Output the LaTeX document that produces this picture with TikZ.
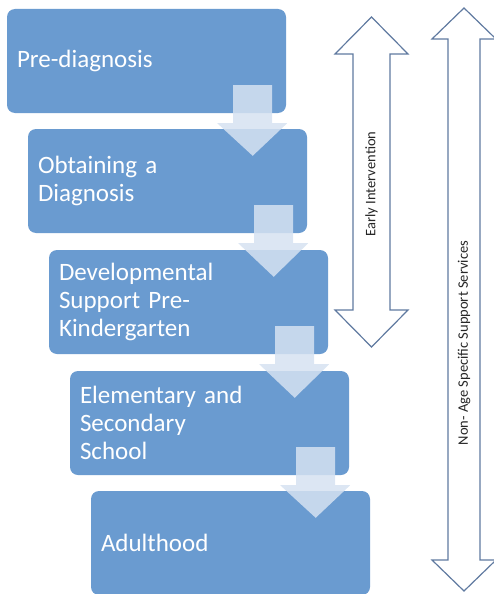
\documentclass[tikz,border=0pt]{standalone}
\usepackage{fontspec}
\setmainfont{Carlito}
\usetikzlibrary{calc}

\definecolor{boxblue}{RGB}{106,155,208}
\definecolor{stepfill}{RGB}{214,226,241}
\definecolor{spanline}{RGB}{96,122,160}

\begin{document}
\begin{tikzpicture}[x=1pt, y=-1pt,
  stage/.style={fill=boxblue, rounded corners=8pt, minimum width=279pt,
                minimum height=104pt, text width=259pt, inner xsep=10pt,
                align=left, text=white, font=\fontsize{25}{28}\selectfont},
  down/.style={fill=stepfill, fill opacity=0.85},
  span/.style={draw=spanline, line width=1.2pt, fill=white},
  lbl/.style={font=\fontsize{14.5}{16}\selectfont, rotate=90, text=black!85},
]
\useasboundingbox (0,0) rectangle (493,594);

% the two spans on the right
\draw[span] (371.5,17) -- (408,54) -- (390,54) -- (390,310) -- (408,310)
  -- (371.5,347) -- (335,310) -- (353,310) -- (353,54) -- (335,54) -- cycle;
\draw[span] (464,8) -- (496,39) -- (480,39) -- (480,560) -- (496,560)
  -- (464,591) -- (432,560) -- (448,560) -- (448,39) -- (432,39) -- cycle;
\node[lbl] (early)  at (371.5,184) {Early Intervention};
\node[lbl] (nonage) at (464,343)   {Non- Age Specific Support Services};

% stages
\node[stage] (b1) at (146.5,61)  {Pre-diagnosis};
\node[stage] (b2) at (167.5,181) {Obtaining a\\Diagnosis};
\node[stage] (b3) at (188.5,302) {Developmental\\Support Pre-\\Kindergarten};
\node[stage] (b4) at (209.5,423) {Elementary and\\Secondary\\School};
\node[stage] (b5) at (230.5,543) {Adulthood};

% block arrows from one stage into the next
\foreach \a/\b in {b1/b2, b2/b3, b3/b4, b4/b5}
  \fill[down] ($(\a.south east)+(-53,-28)$) -- ++(39,0) -- ++(0,38) -- ++(15,0)
    -- ($(\b.north east)+(-54.5,27)$) -- ($(\a.south east)+(-69,10)$)
    -- ++(16,0) -- cycle;
\end{tikzpicture}
\end{document}
